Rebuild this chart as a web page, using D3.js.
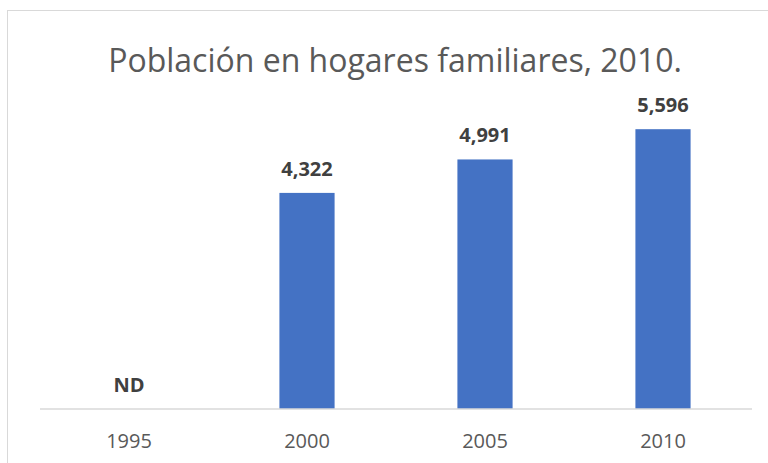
<!DOCTYPE html>
<head>
	<meta charset="UTF-8">
	<title>Población en hogares familiares</title>
	<script src="https://d3js.org/d3.v7.min.js"></script>
	<style>
		body { margin: 0; background: #fff; }
		.chart { font-family: "Open Sans", "Noto Sans", sans-serif; }
	</style>
</head>
<body>
	<svg class="chart" width="768" height="463"></svg>
	<script>
		// data
		var years = ["1995", "2000", "2005", "2010"];
		var values = [null, 4322, 4991, 5596];
		var yDomain = [0, 6000];
		var title = "Población en hogares familiares, 2010.";

		var svg = d3.select(".chart"),
			margin = {top: 109, right: 16, bottom: 54, left: 40},
			width = +svg.attr("width") - margin.left - margin.right,
			height = +svg.attr("height") - margin.top - margin.bottom;

		// chart area border (only left and top edges are visible)
		svg.append("rect")
			.attr("x", 7.5).attr("y", 10.5)
			.attr("width", 800).attr("height", 500)
			.attr("fill", "none")
			.attr("stroke", "#d9d9d9")
			.attr("stroke-width", 1);

		var g = svg.append("g").attr("transform", "translate(" + margin.left + "," + margin.top + ")");

		var x = d3.scaleBand().domain(years).range([0, width]).paddingInner(0.69).paddingOuter(0.345);
		var y = d3.scaleLinear().domain(yDomain).range([height, 0]);

		var data = years.map((d, i) => ({year: d, value: values[i]}));

		//------------------------------------------------------------------
		// bars
		g.append("g")
			.selectAll("rect")
			.data(data.filter(d => d.value != null))
			.enter().append("rect")
				.attr("x", d => x(d.year))
				.attr("y", d => y(d.value))
				.attr("width", x.bandwidth())
				.attr("height", d => height - y(d.value))
				.attr("fill", "#4472c4");

		//------------------------------------------------------------------
		// value labels
		g.append("g")
			.selectAll("text")
			.data(data)
			.enter().append("text")
				.attr("x", d => x(d.year) + x.bandwidth() / 2)
				.attr("y", d => (d.value == null ? height : y(d.value)) - 17)
				.attr("text-anchor", "middle")
				.attr("font-size", 20)
				.attr("font-weight", "bold")
				.attr("fill", "#404040")
				.text(d => d.value == null ? "ND" : d3.format(",")(d.value));

		//------------------------------------------------------------------
		// x axis
		var xAxis = g.append("g")
			.attr("transform", "translate(0," + height + ")")
			.call(d3.axisBottom(x).tickSize(0).tickPadding(25));
		xAxis.select(".domain")
			.attr("stroke", "#d9d9d9")
			.attr("stroke-width", 1.5)
			.attr("d", "M0,0H" + width);
		xAxis.selectAll("text")
			.attr("font-family", "\"Open Sans\", \"Noto Sans\", sans-serif")
			.attr("font-size", 20)
			.attr("fill", "#595959");

		//------------------------------------------------------------------
		// title
		svg.append("text")
			.attr("x", 395)
			.attr("y", 72)
			.attr("text-anchor", "middle")
			.attr("font-size", 32)
			.attr("fill", "#595959")
			.text(title);
	</script>
</body>
</html>
